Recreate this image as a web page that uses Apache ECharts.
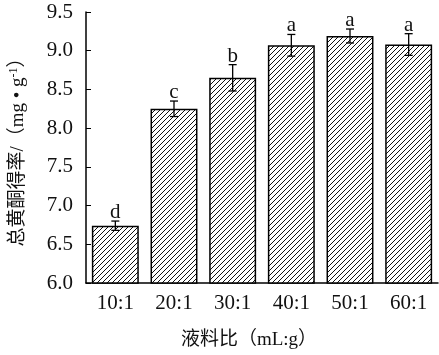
<!DOCTYPE html>
<html>
<head>
<meta charset="utf-8">
<script src="https://cdn.jsdelivr.net/npm/echarts@6/dist/echarts.min.js"></script>
<style>
html, body { margin: 0; padding: 0; background: #fff; }
#main { width: 439px; height: 355px; }
</style>
</head>
<body>
<div id="main"></div>
<script>
var categories = ['10:1', '20:1', '30:1', '40:1', '50:1', '60:1'];
var values = [6.74, 8.25, 8.65, 9.07, 9.19, 9.08];
var errors = [0.06, 0.10, 0.17, 0.14, 0.09, 0.14];
var letters = ['d', 'c', 'b', 'a', 'a', 'a'];

var serif = '"Liberation Serif", "Times New Roman", "Noto Sans CJK SC", serif';

// 斜线填充
function makeHatch() {
    var s = 5;
    var c = document.createElement('canvas');
    c.width = s;
    c.height = s;
    var ctx = c.getContext('2d');
    ctx.fillStyle = '#fff';
    ctx.fillRect(0, 0, s, s);
    ctx.strokeStyle = '#111';
    ctx.lineWidth = 1;
    ctx.beginPath();
    ctx.moveTo(0, s); ctx.lineTo(s, 0);
    ctx.moveTo(-s, s); ctx.lineTo(s, -s);
    ctx.moveTo(0, 2 * s); ctx.lineTo(2 * s, 0);
    ctx.stroke();
    return c;
}

var errData = values.map(function (v, i) {
    return [i, v - errors[i], v + errors[i], letters[i]];
});

var myChart = echarts.init(document.getElementById('main'));
var option = {
    animation: false,
    grid: { left: 86, right: 1, top: 12, bottom: 69 },
    xAxis: {
        type: 'category',
        data: categories,
        axisLine: { lineStyle: { color: '#000', width: 1.5 } },
        axisTick: { show: false },
        axisLabel: { color: '#111', fontFamily: serif, fontSize: 21, margin: 10 },
        name: '液料比（mL:g）',
        nameLocation: 'middle',
        nameGap: 48,
        nameTextStyle: { color: '#111', fontFamily: serif, fontSize: 19, padding: [0, 26, 0, 0] }
    },
    yAxis: {
        type: 'value',
        min: 6.0,
        max: 9.5,
        interval: 0.5,
        axisLine: { show: true, lineStyle: { color: '#000', width: 1.5 } },
        axisTick: { show: true, inside: true, length: 5, lineStyle: { color: '#000' } },
        splitLine: { show: false },
        axisLabel: {
            color: '#111', fontFamily: serif, fontSize: 21, margin: 13,
            formatter: function (v) { return v.toFixed(1); }
        },
        name: '{a|总黄酮得率/（mg • g}{s|-1}{a|）}',
        nameLocation: 'middle',
        nameRotate: 90,
        nameGap: 57,
        nameTextStyle: {
            rich: {
                a: { color: '#111', fontFamily: serif, fontSize: 19 },
                s: { color: '#111', fontFamily: serif, fontSize: 12, verticalAlign: 'top', padding: [0, 0, 9, 0] }
            }
        }
    },
    series: [{
        type: 'bar',
        data: values,
        barWidth: '80%',
        itemStyle: {
            color: { image: makeHatch(), repeat: 'repeat' },
            borderColor: '#000',
            borderWidth: 1.5
        },
        z: 2
    }, {
        type: 'custom',
        data: errData,
        z: 3,
        renderItem: function (params, api) {
            var x = api.value(0);
            var lo = api.coord([x, api.value(1)]);
            var hi = api.coord([x, api.value(2)]);
            var hw = 4;
            return {
                type: 'group',
                children: [{
                    type: 'line',
                    shape: { x1: hi[0], y1: hi[1], x2: lo[0], y2: lo[1] },
                    style: { stroke: '#000', lineWidth: 1.3 }
                }, {
                    type: 'line',
                    shape: { x1: hi[0] - hw, y1: hi[1], x2: hi[0] + hw, y2: hi[1] },
                    style: { stroke: '#000', lineWidth: 1.3 }
                }, {
                    type: 'line',
                    shape: { x1: lo[0] - hw, y1: lo[1], x2: lo[0] + hw, y2: lo[1] },
                    style: { stroke: '#000', lineWidth: 1.3 }
                }, {
                    type: 'text',
                    style: {
                        x: hi[0], y: hi[1] + 2,
                        text: api.value(3),
                        fill: '#111',
                        font: '21px ' + serif,
                        align: 'center',
                        verticalAlign: 'bottom'
                    }
                }]
            };
        }
    }]
};
myChart.setOption(option);
</script>
</body>
</html>
